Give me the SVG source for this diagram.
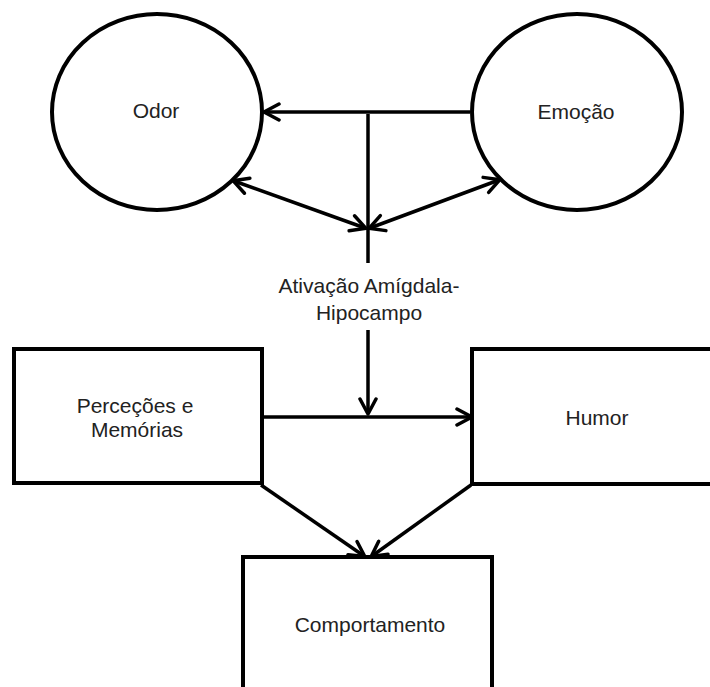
<svg xmlns="http://www.w3.org/2000/svg" width="710" height="687" viewBox="0 0 710 687">
<style>
.shape{fill:#fff;stroke:#000;stroke-width:4}
.line{fill:none;stroke:#000;stroke-width:3.5;stroke-linecap:butt}
.lbl{font-family:"Liberation Sans",Arial,sans-serif;font-size:21px;fill:#222;text-anchor:middle}
</style>
<defs>
<marker id="arr" markerUnits="userSpaceOnUse" viewBox="-2 -2 22 20" markerWidth="22" markerHeight="20" refX="15" refY="8" orient="auto-start-reverse">
<path d="M1,0 L16,8 L1,16" fill="none" stroke="#000" stroke-width="3.5" stroke-linecap="round" stroke-linejoin="round"/>
</marker>
</defs>
<rect width="710" height="687" fill="#fff"/>
<g id="connectors">
<line class="line" x1="470" y1="112" x2="265" y2="112" marker-end="url(#arr)"/>
<line class="line" x1="368" y1="114" x2="368" y2="263"/>
<line class="line" x1="234" y1="181" x2="365" y2="228" marker-start="url(#arr)" marker-end="url(#arr)"/>
<line class="line" x1="499" y1="180" x2="370" y2="228" marker-start="url(#arr)" marker-end="url(#arr)"/>
<line class="line" x1="368" y1="330" x2="368" y2="413" marker-end="url(#arr)"/>
<line class="line" x1="263" y1="417" x2="471" y2="417" marker-end="url(#arr)"/>
<line class="line" x1="261" y1="485" x2="364" y2="556" marker-end="url(#arr)"/>
<line class="line" x1="471" y1="485" x2="372" y2="556" marker-end="url(#arr)"/>
</g>
<g id="odor">
<ellipse class="shape" cx="157" cy="112" rx="105" ry="98"/>
<text class="lbl" x="156" y="118">Odor</text>
</g>
<g id="emocao">
<ellipse class="shape" cx="577" cy="112" rx="105" ry="98"/>
<text class="lbl" x="576" y="119">Emoção</text>
</g>
<g id="ativacao">
<text class="lbl" x="369" y="293">Ativação Amígdala-</text>
<text class="lbl" x="369" y="320">Hipocampo</text>
</g>
<g id="percecoes">
<rect class="shape" x="14" y="349" width="248" height="134"/>
<text class="lbl" x="135" y="413">Perceções e</text>
<text class="lbl" x="137" y="437">Memórias</text>
</g>
<g id="humor">
<rect class="shape" x="472" y="349" width="250" height="135"/>
<text class="lbl" x="597" y="425">Humor</text>
</g>
<g id="comportamento">
<rect class="shape" x="243" y="557" width="249" height="140"/>
<text class="lbl" x="370" y="632">Comportamento</text>
</g>
</svg>
